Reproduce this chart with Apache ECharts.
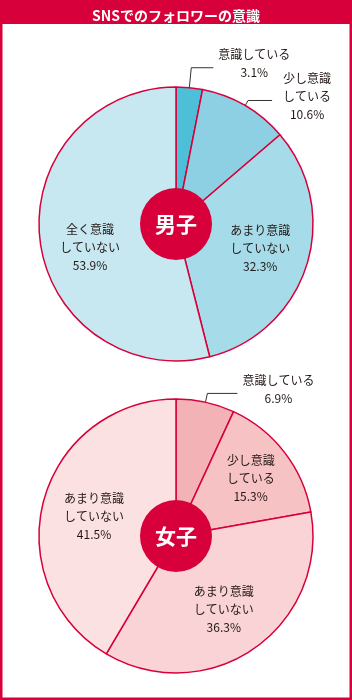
<!DOCTYPE html>
<html>
<head>
<meta charset="utf-8">
<script src="https://cdn.jsdelivr.net/npm/echarts@6/dist/echarts.min.js"></script>
<style>
  html, body { margin: 0; padding: 0; background: #fff; }
  #chart { width: 352px; height: 700px; }
</style>
</head>
<body>
<div id="chart"></div>
<script>
const titleText = 'SNSでのフォロワーの意識'

const maleLabels = ['意識している', '少し意識\nしている', 'あまり意識\nしていない', '全く意識\nしていない']
const maleValues = [3.1, 10.6, 32.3, 53.9]
const maleColors = ['#4dbfd8', '#8dd0e3', '#a6dcea', '#c7e8f1']

const femaleLabels = ['意識している', '少し意識\nしている', 'あまり意識\nしていない', 'あまり意識\nしていない']
const femaleValues = [6.9, 15.3, 36.3, 41.5]
const femaleColors = ['#f3b3b6', '#f6c2c4', '#f9d3d5', '#fce1e2']

const RED = '#d7003a'
const FONT = '"Noto Sans CJK JP", "Noto Sans", sans-serif'
const FONT_SIZE = 12

// label tweaks: inside labels get an offset, outside ones get leader-line lengths
const maleLabelStyle = [
  { outside: true, length: 20, length2: 22 },
  { outside: true, length: 6, length2: 24 },
  { offset: [16, 3] },
  { offset: [-15, 15] },
]
const femaleLabelStyle = [
  { outside: true, length: 9, length2: 30 },
  { offset: [18, -14] },
  { offset: [7, 15] },
  { offset: [-13, -1] },
]

function buildData(labels, values, colors, styles) {
  return labels.map((name, i) => {
    const s = styles[i]
    const item = {
      name,
      value: values[i],
      itemStyle: { color: colors[i] },
    }
    if (s.outside) {
      // outside labels are left-anchored, so centre each line in a fixed-width box
      const lines = (name + '\n' + values[i].toFixed(1) + '%').split('\n')
      const w = Math.max(...lines.map((l) => l.length)) * FONT_SIZE
      item.label = {
        position: 'outside',
        distanceToLabelLine: 5,
        offset: [0, -4],
        formatter: lines.map((l) => '{c|' + l + '}').join('\n'),
        rich: { c: { width: w, align: 'center', fontSize: FONT_SIZE, lineHeight: 18, color: '#231815', fontFamily: FONT } },
      }
      item.labelLine = { show: true, length: s.length, length2: s.length2, lineStyle: { color: '#333', width: 1 } }
    } else {
      item.label = { position: 'inside', offset: s.offset }
      item.labelLine = { show: false }
    }
    return item
  })
}

function pieSeries(labels, values, colors, styles, cy) {
  return {
    type: 'pie',
    radius: 137,
    center: [176, cy],
    startAngle: 90,
    clockwise: true,
    avoidLabelOverlap: false,
    itemStyle: { borderColor: RED, borderWidth: 1.5 },
    emphasis: { disabled: true },
    label: {
      show: true,
      formatter: (p) => p.name + '\n' + p.value.toFixed(1) + '%',
      color: '#231815',
      fontSize: FONT_SIZE,
      lineHeight: 18,
      fontFamily: FONT,
      align: 'center',
    },
    labelLayout: { hideOverlap: false },
    data: buildData(labels, values, colors, styles),
  }
}

function badge(text, cy) {
  return {
    type: 'pie',
    radius: 36,
    center: [176, cy],
    silent: true,
    itemStyle: { color: RED },
    label: {
      show: true,
      position: 'center',
      formatter: text,
      color: '#fff',
      fontSize: 21,
      fontWeight: 'bold',
      fontFamily: FONT,
    },
    labelLine: { show: false },
    data: [{ name: text, value: 1 }],
  }
}

const chart = echarts.init(document.getElementById('chart'))
chart.setOption({
  animation: false,
  backgroundColor: '#fff',
  title: {
    text: titleText,
    left: 'center',
    top: 4,
    textStyle: { color: '#fff', fontSize: 14, fontWeight: 'bold', fontFamily: FONT },
  },
  graphic: [
    {
      type: 'rect',
      z: -10,
      shape: { x: 1.25, y: 1.25, width: 349.5, height: 697.5 },
      style: { fill: '#fff', stroke: RED, lineWidth: 2.5 },
    },
    {
      type: 'rect',
      z: -9,
      shape: { x: 0, y: 0, width: 352, height: 24 },
      style: { fill: RED },
    },
  ],
  series: [
    pieSeries(maleLabels, maleValues, maleColors, maleLabelStyle, 224),
    badge('男子', 224),
    pieSeries(femaleLabels, femaleValues, femaleColors, femaleLabelStyle, 536),
    badge('女子', 536),
  ],
})
</script>
</body>
</html>
